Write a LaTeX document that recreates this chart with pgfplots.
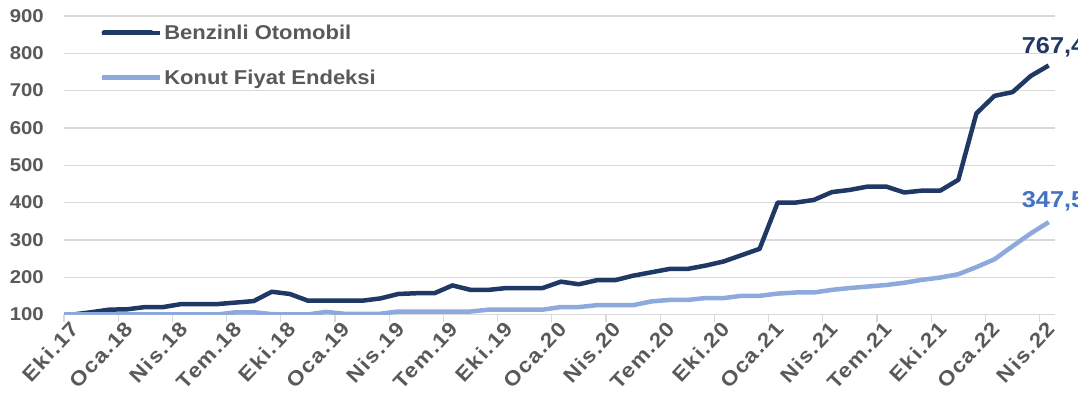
\documentclass[border=0pt]{standalone}
\usepackage{fontspec}
\setmainfont{Liberation Sans}[FakeStretch=1.1]
\newfontfamily\xlab{Liberation Sans}[FakeStretch=1.1, LetterSpace=7]
\usepackage{pgfplots}
\usepackage{pgfplotstable}
\pgfplotsset{compat=1.18}
\definecolor{dark}{HTML}{203864}
\definecolor{light}{HTML}{8EA9DB}
\definecolor{lbl}{HTML}{4472C4}
\definecolor{txt}{HTML}{595959}
\definecolor{grd}{HTML}{D9D9D9}
\pgfplotstableread{
x dark light
-0.5 97 100
0.5 100 100
1.5 106 100
2.5 113 100
3.5 114 100
4.5 120 100
5.5 120 100
6.5 128 100
7.5 128 100
8.5 128 100
9.5 132 106
10.5 136 106
11.5 161 101
12.5 155 100
13.5 137 100
14.5 137 107
15.5 137 102
16.5 137 102
17.5 143 102
18.5 155 108
19.5 157 108
20.5 157 108
21.5 178 108
22.5 166 108
23.5 166 113
24.5 171 113
25.5 171 113
26.5 171 113
27.5 188 120
28.5 181 120
29.5 192 125
30.5 192 125
31.5 204 125
32.5 213 135
33.5 222 139
34.5 222 139
35.5 231 144
36.5 242 144
37.5 259 150
38.5 276 150
39.5 400 156
40.5 400 159
41.5 407 159
42.5 428 166
43.5 434 171
44.5 443 175
45.5 443 179
46.5 427 185
47.5 432 193
48.5 432 199
49.5 461 208
50.5 639 227
51.5 686 248
52.5 696 283
53.5 739 317
54.5 767.4 347.5
}\data
\begin{document}
\begin{tikzpicture}
\path[use as bounding box] (0bp,0bp) rectangle (1078bp,403bp);
\begin{axis}[
  at={(64bp,88.5bp)}, anchor=south west,
  scale only axis, width=991bp, height=298.5bp,
  xmin=0, xmax=54.85, ymin=100, ymax=900,
  clip mode=individual,
  axis lines*=left,
  y axis line style={draw=none},
  x axis line style={draw=grd, line width=1.3bp},
  ytick={100,200,...,900},
  ymajorgrids,
  major grid style={draw=grd, line width=1.3bp},
  ytick style={draw=none},
  xtick={0,3,...,54},
  xtick align=outside,
  major tick length=7bp,
  xtick style={draw=grd, line width=1.3bp},
  xticklabels={Eki.17,Oca.18,Nis.18,Tem.18,Eki.18,Oca.19,Nis.19,Tem.19,Eki.19,Oca.20,Nis.20,Tem.20,Eki.20,Oca.21,Nis.21,Tem.21,Eki.21,Oca.22,Nis.22},
  xticklabel style={font=\xlab\fontsize{20.5bp}{22bp}\selectfont\bfseries, text=txt, rotate=47, anchor=north east, inner sep=0pt, xshift=5bp, yshift=-3bp},
  yticklabel style={font=\fontsize{18.5bp}{20bp}\selectfont\bfseries, text=txt, anchor=east, inner sep=0pt, xshift=-20bp},
  /pgf/number format/assume math mode=true,
  legend style={at={(0.036,0.978)}, anchor=north west, draw=none, fill=none,
    font=\fontsize{20bp}{22bp}\selectfont\bfseries, text=txt, row sep=25bp, inner sep=0pt},
  legend cell align=left,
  legend image code/.code={\path (0bp,0bp) -- (58bp,0bp); \draw[#1, line width=5bp, line cap=round] (2bp,0bp) -- (49bp,0bp);},
]
\addplot[dark, line width=4.5bp, line join=round] table[x=x, y=dark] {\data};
\addlegendentry{Benzinli Otomobil}
\addplot[light, line width=4.5bp, line join=round] table[x=x, y=light] {\data};
\addlegendentry{Konut Fiyat Endeksi}
\node[anchor=base west, font=\fontsize{23bp}{25bp}\selectfont\bfseries, text=dark, inner sep=0pt, xshift=-27bp, yshift=11.5bp] at (axis cs:54.5,767.4) {767,4};
\node[anchor=base west, font=\fontsize{23bp}{25bp}\selectfont\bfseries, text=lbl, inner sep=0pt, xshift=-27bp, yshift=15bp] at (axis cs:54.5,347.5) {347,5};
\end{axis}
\end{tikzpicture}
\end{document}
